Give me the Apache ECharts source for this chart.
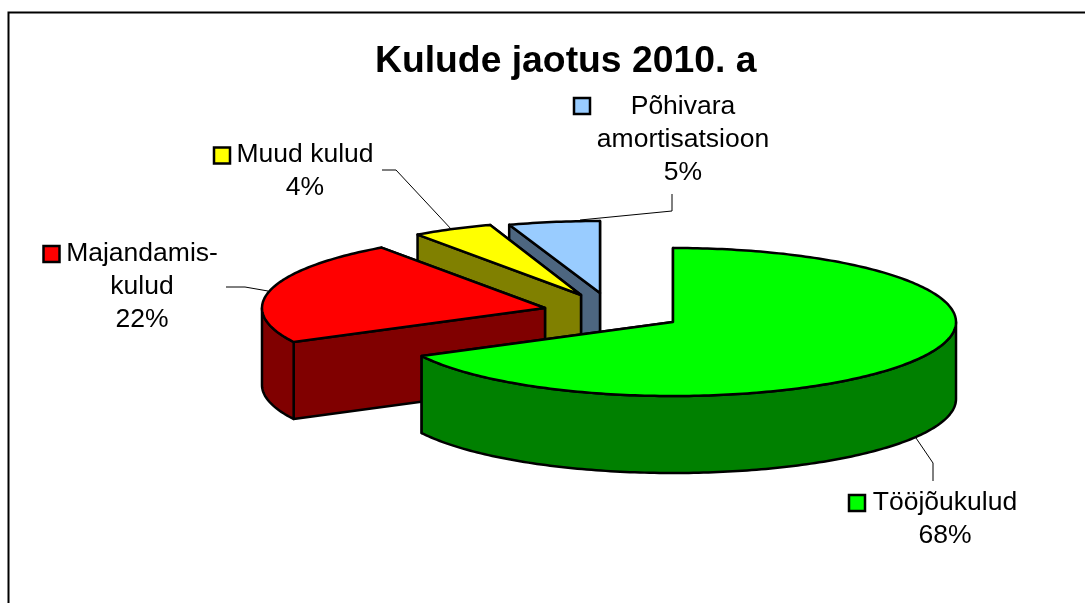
<!DOCTYPE html>
<html><head><meta charset="utf-8">
<style>html,body{margin:0;padding:0;background:#fff}#c{width:1085px;height:603px}</style>
<script src="https://cdn.jsdelivr.net/npm/echarts@6/dist/echarts.min.js"></script>
</head><body><div id="c"></div>
<script>
var titleText = 'Kulude jaotus 2010. a';
var categories = ['Tööjõukulud', 'Majandamis-kulud', 'Muud kulud', 'Põhivara amortisatsioon'];
var values = [67.4, 22.8, 4.6, 5.2];
var percentLabels = ['68%', '22%', '4%', '5%'];
var labelLines = [['Tööjõukulud', '68%'], ['Majandamis-', 'kulud', '22%'], ['Muud kulud', '4%'], ['Põhivara', 'amortisatsioon', '5%']];

// layout and style
var topColors = ['#00FF00', '#FF0000', '#FFFF00', '#99CCFF'];
var wallColors = ['#008000', '#800000', '#808000', '#4D6680'];
var centers = [[673, 322], [545, 308], [581, 295], [600, 293]];
var radiiY = [74, 74, 74, 72];
var radiusX = 283, depth = 77;
var drawOrder = [3, 2, 1, 0];
var textCenters = [[945, 503], [142, 254], [305, 155], [683, 107]];
var lineHeight = 32.6;
var keyBoxes = [[849, 495], [43.5, 246], [214, 147.5], [574, 98]];
var leaders = [
  [[933, 481], [933, 463], [916, 438]],
  [[226, 287], [245, 287], [268, 291]],
  [[382, 170], [396, 170], [452, 230]],
  [[672, 194], [672, 211], [580, 220]]
];
var FONT = '"Liberation Sans", Arial, sans-serif';

var total = values.reduce(function (a, b) { return a + b; }, 0);
var spans = [], acc = 0;
values.forEach(function (v) { spans.push([acc / total * 360, (acc + v) / total * 360]); acc += v; });

function pt(i, deg, dy) {
  var a = deg * Math.PI / 180;
  return [centers[i][0] + radiusX * Math.sin(a), centers[i][1] - radiiY[i] * Math.cos(a) + (dy || 0)];
}
function arc(i, from, to, dy) {
  var out = [], n = Math.max(1, Math.ceil(Math.abs(to - from)));
  for (var k = 0; k <= n; k++) out.push(pt(i, from + (to - from) * k / n, dy));
  return out;
}
function poly(points, fill) {
  return { type: 'polygon', shape: { points: points }, silent: true,
    style: { fill: fill, stroke: '#000', lineWidth: 2.5, lineJoin: 'round' } };
}
function renderSlice(params, api) {
  var i = api.value(0), s = spans[i][0], e = spans[i][1];
  var c = [centers[i][0], centers[i][1]], cd = [c[0], c[1] + depth];
  var kids = [];
  [e, s].forEach(function (ang) {
    kids.push(poly([c, pt(i, ang), pt(i, ang, depth), cd], wallColors[i]));
  });
  var f = Math.max(s, 90), t = Math.min(e, 270);
  if (t > f) kids.push(poly(arc(i, f, t, 0).concat(arc(i, t, f, depth)), wallColors[i]));
  kids.push(poly([c].concat(arc(i, s, e, 0)), topColors[i]));
  return { type: 'group', children: kids };
}
function renderLabel(params, api) {
  var i = api.value(0), kids = [];
  kids.push({ type: 'polyline', shape: { points: leaders[i] }, silent: true,
    style: { fill: null, stroke: '#000', lineWidth: 1 } });
  labelLines[i].forEach(function (line, n) {
    kids.push({ type: 'text', silent: true, style: {
      text: line, x: textCenters[i][0], y: textCenters[i][1] + n * lineHeight,
      align: 'center', verticalAlign: 'middle', fill: '#000', font: '26.5px ' + FONT } });
  });
  kids.push({ type: 'rect', shape: { x: keyBoxes[i][0], y: keyBoxes[i][1], width: 16, height: 16 }, silent: true,
    style: { fill: topColors[i], stroke: '#000', lineWidth: 2.5 } });
  return { type: 'group', children: kids };
}

var chart = echarts.init(document.getElementById('c'), null, { renderer: 'canvas' });
chart.setOption({
  animation: false,
  backgroundColor: '#fff',
  title: { text: titleText, left: 370, top: 38,
    textStyle: { fontFamily: FONT, fontWeight: 'bold', fontSize: 37.3, color: '#000' } },
  tooltip: { show: false },
  graphic: [{ type: 'polyline', silent: true, shape: { points: [[8.5, 603], [8.5, 12.5], [1085, 12.5]] },
    style: { fill: null, stroke: '#000', lineWidth: 2 } }],
  series: [
    { type: 'custom', coordinateSystem: 'none', renderItem: renderSlice, data: drawOrder.map(function (i) { return [i, values[i]]; }), z: 2 },
    { type: 'custom', coordinateSystem: 'none', renderItem: renderLabel, data: categories.map(function (c, i) { return [i, percentLabels[i]]; }), z: 3 }
  ]
});
</script></body></html>
